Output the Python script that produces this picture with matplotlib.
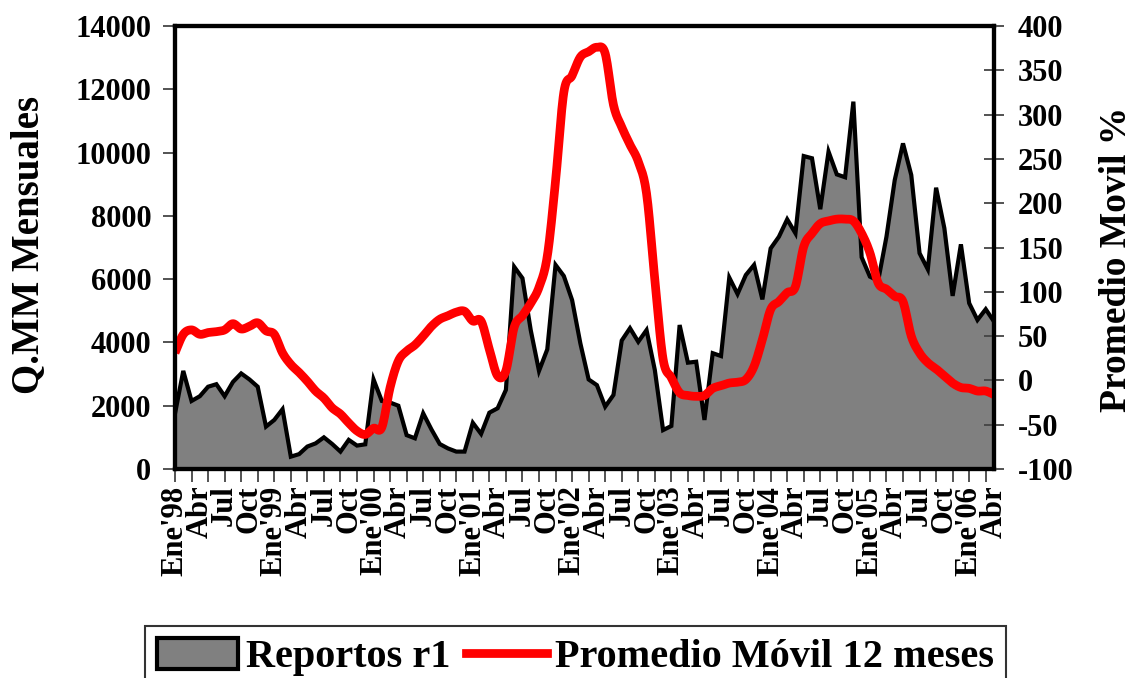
import numpy as np
import matplotlib
matplotlib.use("Agg")
import matplotlib.pyplot as plt
from matplotlib.patches import Patch
from matplotlib.lines import Line2D

plt.rcParams['font.family'] = ['Liberation Serif', 'DejaVu Serif']
plt.rcParams['font.weight'] = 'bold'
plt.rcParams['axes.unicode_minus'] = False

# monthly values, Ene'98 .. Abr'06
reportos = [1750, 3100, 2150, 2300, 2600, 2680, 2300, 2750, 3020, 2830,
            2600, 1340, 1550, 1890, 390, 470, 710, 810, 1000, 790,
            550, 920, 740, 780, 2830, 2150, 2100, 2000, 1070, 970,
            1760, 1250, 790, 650, 550, 550, 1460, 1110, 1780, 1920,
            2500, 6390, 6030, 4390, 3100, 3780, 6450, 6100, 5340, 3970,
            2830, 2650, 1970, 2340, 4060, 4450, 4020, 4390, 3130, 1230,
            1360, 4550, 3360, 3390, 1550, 3660, 3570, 6050, 5530, 6130,
            6450, 5360, 6970, 7340, 7890, 7450, 9890, 9820, 8210, 10030,
            9310, 9220, 11610, 6690, 6080, 5950, 7340, 9130, 10290, 9290,
            6820, 6310, 8890, 7610, 5470, 7100, 5240, 4710, 5050, 4660]

promedio = [31, 52, 57, 52, 54, 55, 57, 64, 58, 61,
            65, 56, 52, 31, 18, 9, -1, -12, -20, -31,
            -38, -48, -57, -61, -54, -53, -8, 22, 33, 40,
            50, 61, 69, 73, 77, 78, 67, 67, 35, 5,
            11, 60, 73, 87, 105, 140, 225, 325, 344, 365,
            371, 376, 369, 311, 286, 266, 247, 211, 114, 24,
            3, -14, -17, -18, -17, -9, -6, -3, -2, 1,
            16, 46, 80, 89, 99, 106, 151, 166, 177, 180,
            182, 182, 180, 166, 144, 110, 103, 95, 89, 50,
            31, 20, 13, 5, -3, -8, -9, -12, -12, -16]

meses = ["Ene", "Abr", "Jul", "Oct"]
anios = ["98", "99", "00", "01", "02", "03", "04", "05", "06"]
etiquetas = []
for a in anios:
    for m in meses:
        etiquetas.append(m + "'" + a if m == "Ene" else m)
etiquetas = etiquetas[:34]


def catmull_rom(x, y, n=12):
    # smoothed line like the spreadsheet "smoothed line" option
    x = np.asarray(x, float)
    y = np.asarray(y, float)
    px = np.concatenate([[x[0]], x, [x[-1]]])
    py = np.concatenate([[y[0]], y, [y[-1]]])
    xs, ys = [], []
    t = np.linspace(0, 1, n, endpoint=False)
    for i in range(1, len(px) - 2):
        for p, out in ((px, xs), (py, ys)):
            p0, p1, p2, p3 = p[i - 1], p[i], p[i + 1], p[i + 2]
            out.extend(0.5 * ((2 * p1) + (-p0 + p2) * t
                              + (2 * p0 - 5 * p1 + 4 * p2 - p3) * t ** 2
                              + (-p0 + 3 * p1 - 3 * p2 + p3) * t ** 3))
    xs.append(x[-1])
    ys.append(y[-1])
    return np.array(xs), np.array(ys)


x = np.arange(len(reportos))

fig = plt.figure(figsize=(11.34, 6.78), dpi=100)
ax = fig.add_axes([175 / 1134, 1 - 469 / 678, (994 - 175) / 1134, (469 - 26) / 678])
ax.fill_between(x, reportos, 0, color='#808080', linewidth=0)
ax.plot(x, reportos, color='black', linewidth=3, solid_joinstyle='miter')
ax.set_xlim(0, len(reportos) - 1)
ax.set_ylim(0, 14000)
ax.set_yticks(range(0, 14001, 2000))
ax.xaxis.remove_overlapping_locs = False
ax.set_xticks(np.arange(0, len(reportos), 2))
ax.set_xticklabels([])
ax.set_xticks(np.arange(0, len(reportos), 3), minor=True)
ax.set_xticklabels(etiquetas, minor=True, rotation=90, fontsize=22, fontweight='bold')
ax.tick_params(axis='x', which='major', direction='out', length=9, width=1.3, color='#444444')
ax.tick_params(axis='x', which='minor', length=0, pad=12)
ax.tick_params(axis='y', direction='out', length=9, width=1.3, color='#444444',
               labelsize=22, pad=8)
ax.set_ylabel("Q.MM Mensuales", fontsize=28, fontweight='bold')
ax.yaxis.set_label_coords(-0.156, 0.506)

ax2 = ax.twinx()
sx, sy = catmull_rom(x, promedio)
ax2.plot(sx, sy, color='#ff0000', linewidth=6.3, solid_capstyle='butt')
ax2.set_ylim(-100, 400)
ax2.set_yticks(range(-100, 401, 50))
ax2.tick_params(axis='y', direction='inout', length=14, width=1.3, color='#444444',
                labelsize=22, pad=10)
ax2.set_ylabel("Promedio Movil %", fontsize=27, fontweight='bold')
ax2.yaxis.set_label_coords(1.128, 0.474)

for a in (ax, ax2):
    for s in a.spines.values():
        s.set_linewidth(3)
        s.set_color('black')

handles = [Patch(facecolor='#808080', edgecolor='black', linewidth=3),
           Line2D([0], [0], color='#ff0000', linewidth=6.3)]
leg = fig.legend(handles, ["Reportos r1", "Promedio Móvil 12 meses"],
                 loc='upper left', bbox_to_anchor=(145 / 1134, 1 - 626 / 678),
                 ncol=2, fontsize=29, frameon=True, fancybox=False,
                 borderaxespad=0, borderpad=0.3, handlelength=2.0,
                 handleheight=0.8, handletextpad=0.2, columnspacing=0.4)
leg.get_frame().set_edgecolor('black')
leg.get_frame().set_linewidth(1.5)
for t in leg.get_texts():
    t.set_fontweight('bold')

fig.savefig("out.png", dpi=100)
